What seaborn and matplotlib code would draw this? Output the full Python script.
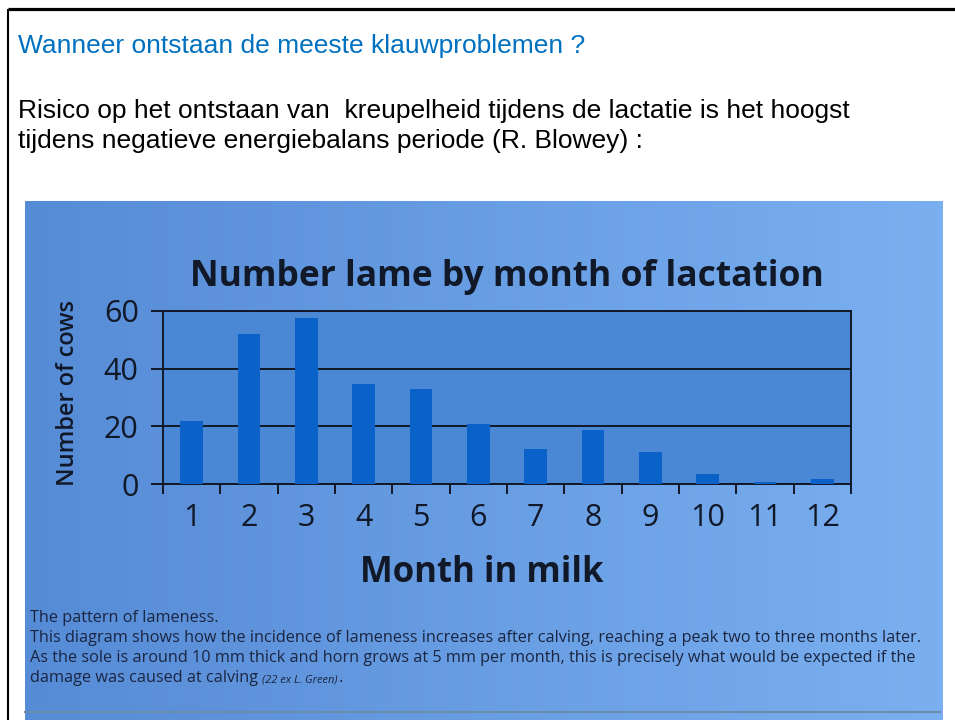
import numpy as np
import matplotlib.pyplot as plt
import seaborn as sns
from matplotlib.ticker import FixedLocator

# values
months = ['1', '2', '3', '4', '5', '6', '7', '8', '9', '10', '11', '12']
lame_counts = [21.7, 51.9, 57.6, 34.8, 33.0, 20.9, 12.3, 18.9, 11.2, 3.6, 0.8, 1.6]
y_ticks = [0, 20, 40, 60]

heading = 'Wanneer ontstaan de meeste klauwproblemen ?'
intro = ['Risico op het ontstaan van  kreupelheid tijdens de lactatie is het hoogst',
         'tijdens negatieve energiebalans periode (R. Blowey) :']
caption = ['The pattern of lameness.',
           'This diagram shows how the incidence of lameness increases after calving, reaching a peak two to three months later.',
           'As the sole is around 10 mm thick and horn grows at 5 mm per month, this is precisely what would be expected if the',
           'damage was caused at calving']
reference_note = '(22 ex L. Green)'

ink = '#111827'
bar_blue = '#0a62c8'

plt.rcParams['font.family'] = ['Open Sans', 'DejaVu Sans']

fig = plt.figure(figsize=(9.55, 7.2), dpi=100)
fig.patch.set_facecolor('white')

# slide background in pixel coordinates
bg = fig.add_axes([0, 0, 1, 1])
bg.set_xlim(0, 955)
bg.set_ylim(720, 0)
bg.axis('off')

# photo of the book page: soft left-to-right blue gradient
left_c = np.array([86, 139, 214]) / 255
right_c = np.array([122, 176, 240]) / 255
ramp = np.linspace(0, 1, 256)[None, :, None]
photo = left_c + (right_c - left_c) * ramp
bg.imshow(photo, extent=(25, 942, 720, 201), aspect='auto', zorder=0)
bg.plot([25, 940], [712, 712], color='#6d8cab', lw=1.5, zorder=1)

# slide frame
bg.plot([8, 955], [9, 9], color='black', lw=2.3, solid_capstyle='butt')
bg.plot([8, 8], [9, 720], color='black', lw=1.5, solid_capstyle='butt')

slide_font = ['Liberation Sans', 'DejaVu Sans']
bg.text(18, 53, heading, color='#0070c0', fontsize=19, family=slide_font, va='baseline')
bg.text(18, 118, intro[0], color='black', fontsize=19, family=slide_font, va='baseline')
bg.text(18, 148, intro[1], color='black', fontsize=19, family=slide_font, va='baseline')

cap_color = '#1b2540'
cap_texts = []
for i, line in enumerate(caption):
    cap_texts.append(bg.text(30, 622 + 20 * i, line, color=cap_color, fontsize=11.7, va='baseline'))

# the chart itself
ax = fig.add_axes([163 / 955, 1 - 484 / 720, 688 / 955, 173 / 720])
ax.set_facecolor('#4a87d4')
sns.barplot(x=months, y=lame_counts, color=bar_blue, saturation=1, width=0.4, ax=ax, zorder=3)

ax.set_ylim(0, 60)
ax.set_xlim(-0.5, len(months) - 0.5)
ax.set_yticks(y_ticks)
ax.yaxis.grid(True, color=ink, lw=1.4)
ax.set_axisbelow(True)

for s in ax.spines.values():
    s.set_color(ink)
    s.set_linewidth(1.4)

ax.xaxis.set_minor_locator(FixedLocator(np.arange(-0.5, len(months), 1.0)))
ax.tick_params(axis='x', which='major', length=0, pad=14, labelsize=22, labelcolor=ink)
ax.tick_params(axis='x', which='minor', length=7.5, width=1.4, color=ink, direction='out')
ax.tick_params(axis='y', length=8.5, width=1.4, color=ink, pad=9, labelsize=22, labelcolor=ink)

ax.set_title('Number lame by month of lactation', fontsize=25.5, fontweight='bold', color=ink, pad=18)
ax.set_xlabel('Month in milk', fontsize=25, fontweight='bold', color=ink)
ax.xaxis.label.set_va('baseline')
ax.xaxis.set_label_coords((482 - 163) / 688, (484 - 582) / 173)
ax.set_ylabel('Number of cows', fontsize=17, fontweight='semibold', color=ink)
ax.yaxis.label.set_va('center')
ax.yaxis.set_label_coords((68 - 163) / 688, (484 - 393) / 173)

# small italic source note follows the last caption line
fig.canvas.draw()
renderer = fig.canvas.get_renderer()
end_px = cap_texts[-1].get_window_extent(renderer).x1
x_note = bg.transData.inverted().transform((end_px + 4, 0))[0]
note = bg.text(x_note, 682, reference_note, color=cap_color, fontsize=8, style='italic', va='baseline')
fig.canvas.draw()
note_end = note.get_window_extent(renderer).x1
x_dot = bg.transData.inverted().transform((note_end + 1, 0))[0]
bg.text(x_dot, 682, '.', color=cap_color, fontsize=11.7, va='baseline')

fig.savefig('out.png', dpi=100)
